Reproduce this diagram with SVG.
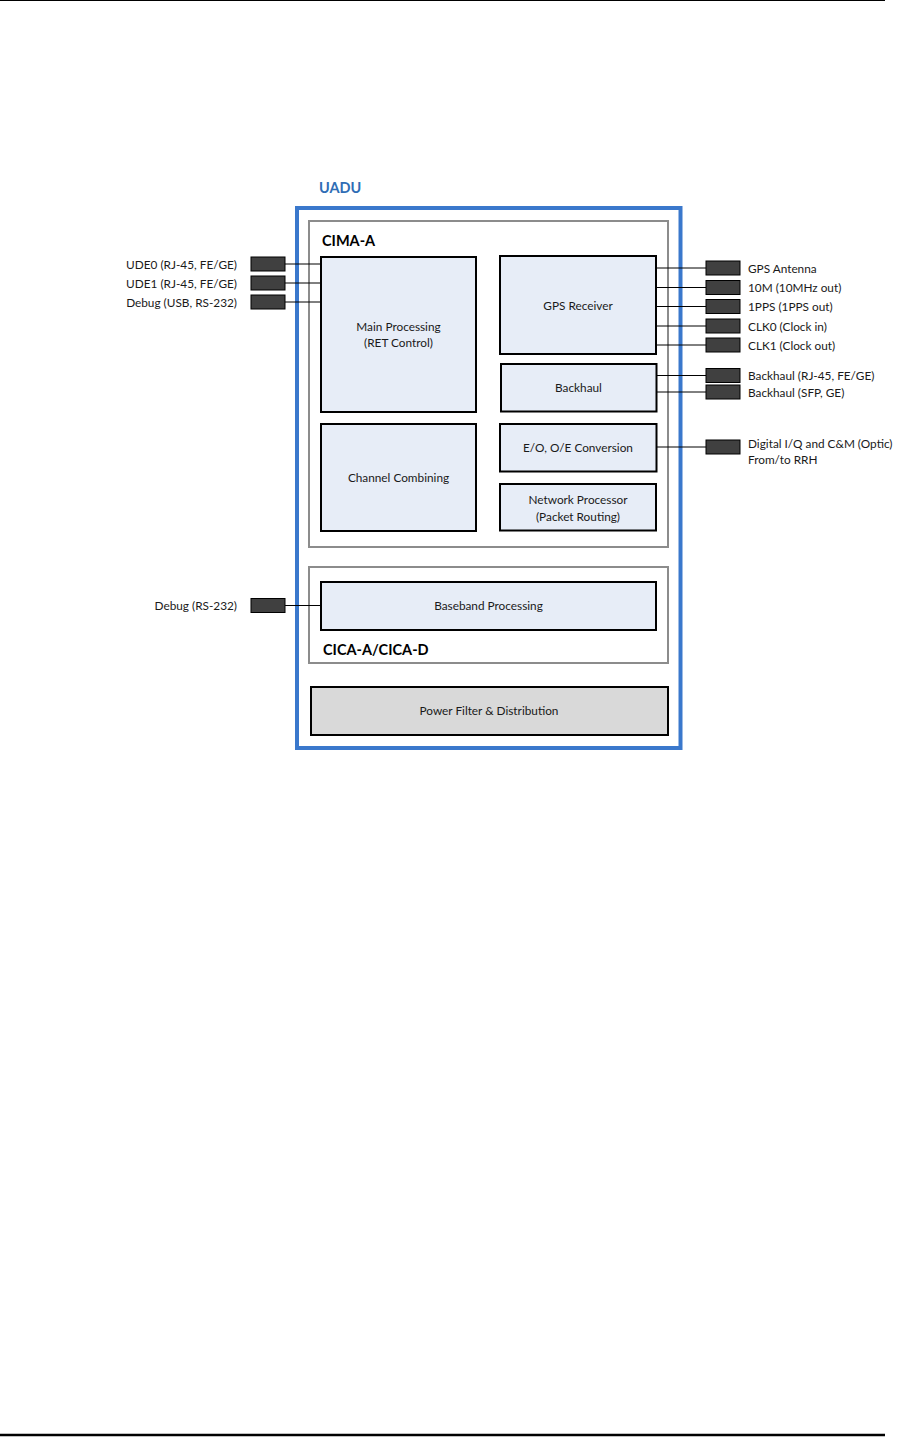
<svg xmlns="http://www.w3.org/2000/svg" width="900" height="1437" viewBox="0 0 900 1437">
<style>
text{font-family:Lato,"Liberation Sans",sans-serif;fill:#1a1a1a;font-size:11.8px;dominant-baseline:central}
.c{text-anchor:middle}
.r{text-anchor:end}
.b{font-weight:bold;font-size:14.5px;fill:#000}
.blk{fill:#e7edf7;stroke:#000;stroke-width:2}
.pwr{fill:#d9d9d9;stroke:#000;stroke-width:2}
.grp{fill:none;stroke:#8c8c8c;stroke-width:2}
.port{fill:#404040;stroke:#000;stroke-width:1}
.wire{stroke:#000;stroke-width:1;fill:none}
</style>
<rect width="900" height="1437" fill="#fff"/>
<line x1="0" y1="0.5" x2="885" y2="0.5" stroke="#000" stroke-width="1"/>
<line x1="0" y1="1435" x2="885" y2="1435" stroke="#000" stroke-width="2.5"/>

<g id="uadu">
<rect x="297" y="208" width="383.5" height="540" fill="none" stroke="#3a78cc" stroke-width="4"/>
<text x="319" y="187" style="font-weight:bold;font-size:14.5px;fill:#2f6db5">UADU</text>
</g>
<g id="cima-a">
<rect class="grp" x="309" y="221" width="359" height="326"/>
<text class="b" x="322" y="240.5">CIMA-A</text>
</g>
<g id="cica">
<rect class="grp" x="309" y="567" width="359" height="96"/>
<text class="b" x="323" y="649">CICA-A/CICA-D</text>
</g>

<g id="main-processing">
<rect class="blk" x="321" y="257" width="155" height="155"/>
<text class="c" x="398.5" y="326">Main Processing</text>
<text class="c" x="398.5" y="342.5">(RET Control)</text>
</g>
<g id="channel-combining">
<rect class="blk" x="321" y="424" width="155" height="107"/>
<text class="c" x="398.5" y="477.5">Channel Combining</text>
</g>
<g id="gps-receiver">
<rect class="blk" x="500" y="256" width="156" height="98"/>
<text class="c" x="578" y="305">GPS Receiver</text>
</g>
<g id="backhaul">
<rect class="blk" x="501" y="364" width="155.5" height="47.5"/>
<text class="c" x="578.5" y="387.5">Backhaul</text>
</g>
<g id="eo-conversion">
<rect class="blk" x="500" y="424" width="156.5" height="47.5"/>
<text class="c" x="578" y="447">E/O, O/E Conversion</text>
</g>
<g id="network-processor">
<rect class="blk" x="500" y="484" width="156" height="46.5"/>
<text class="c" x="578" y="499.5">Network Processor</text>
<text class="c" x="578" y="516">(Packet Routing)</text>
</g>
<g id="baseband">
<rect class="blk" x="321" y="582" width="335" height="48"/>
<text class="c" x="488.5" y="605.5">Baseband Processing</text>
</g>
<g id="power">
<rect class="pwr" x="311" y="687" width="357" height="48"/>
<text class="c" x="489" y="710.5">Power Filter &amp; Distribution</text>
</g>

<g id="connectors">
<line class="wire" x1="285" y1="264" x2="321" y2="264"/>
<line class="wire" x1="285" y1="283" x2="321" y2="283"/>
<line class="wire" x1="285" y1="302" x2="321" y2="302"/>
<line class="wire" x1="285" y1="605.5" x2="321" y2="605.5"/>
<line class="wire" x1="656" y1="268" x2="706" y2="268"/>
<line class="wire" x1="656" y1="287.5" x2="706" y2="287.5"/>
<line class="wire" x1="656" y1="306.5" x2="706" y2="306.5"/>
<line class="wire" x1="656" y1="326" x2="706" y2="326"/>
<line class="wire" x1="656" y1="345" x2="706" y2="345"/>
<line class="wire" x1="656" y1="375.5" x2="706" y2="375.5"/>
<line class="wire" x1="656" y1="392" x2="706" y2="392"/>
<line class="wire" x1="656" y1="447" x2="706" y2="447"/>
</g>

<g id="port-ude0"><rect class="port" x="251" y="257" width="34" height="14"/><text class="r" x="237" y="264">UDE0 (RJ-45, FE/GE)</text></g>
<g id="port-ude1"><rect class="port" x="251" y="276" width="34" height="14"/><text class="r" x="237" y="283">UDE1 (RJ-45, FE/GE)</text></g>
<g id="port-debug-usb"><rect class="port" x="251" y="295" width="34" height="14"/><text class="r" x="237" y="302">Debug (USB, RS-232)</text></g>
<g id="port-debug-rs232"><rect class="port" x="251" y="598.5" width="34" height="14"/><text class="r" x="237" y="605.5">Debug (RS-232)</text></g>

<g id="port-gps-antenna"><rect class="port" x="706" y="261" width="34" height="14"/><text x="748" y="268">GPS Antenna</text></g>
<g id="port-10m"><rect class="port" x="706" y="280.5" width="34" height="14"/><text x="748" y="287.5">10M (10MHz out)</text></g>
<g id="port-1pps"><rect class="port" x="706" y="299.5" width="34" height="14"/><text x="748" y="306.5">1PPS (1PPS out)</text></g>
<g id="port-clk0"><rect class="port" x="706" y="319" width="34" height="14"/><text x="748" y="326">CLK0 (Clock in)</text></g>
<g id="port-clk1"><rect class="port" x="706" y="338" width="34" height="14"/><text x="748" y="345">CLK1 (Clock out)</text></g>
<g id="port-backhaul-rj45"><rect class="port" x="706" y="368.5" width="34" height="14"/><text x="748" y="375.5">Backhaul (RJ-45, FE/GE)</text></g>
<g id="port-backhaul-sfp"><rect class="port" x="706" y="385" width="34" height="14"/><text x="748" y="392">Backhaul (SFP, GE)</text></g>
<g id="port-optic"><rect class="port" x="706" y="440" width="34" height="14"/><text x="748" y="443">Digital I/Q and C&amp;M (Optic)</text><text x="748" y="459.5">From/to RRH</text></g>
</svg>
